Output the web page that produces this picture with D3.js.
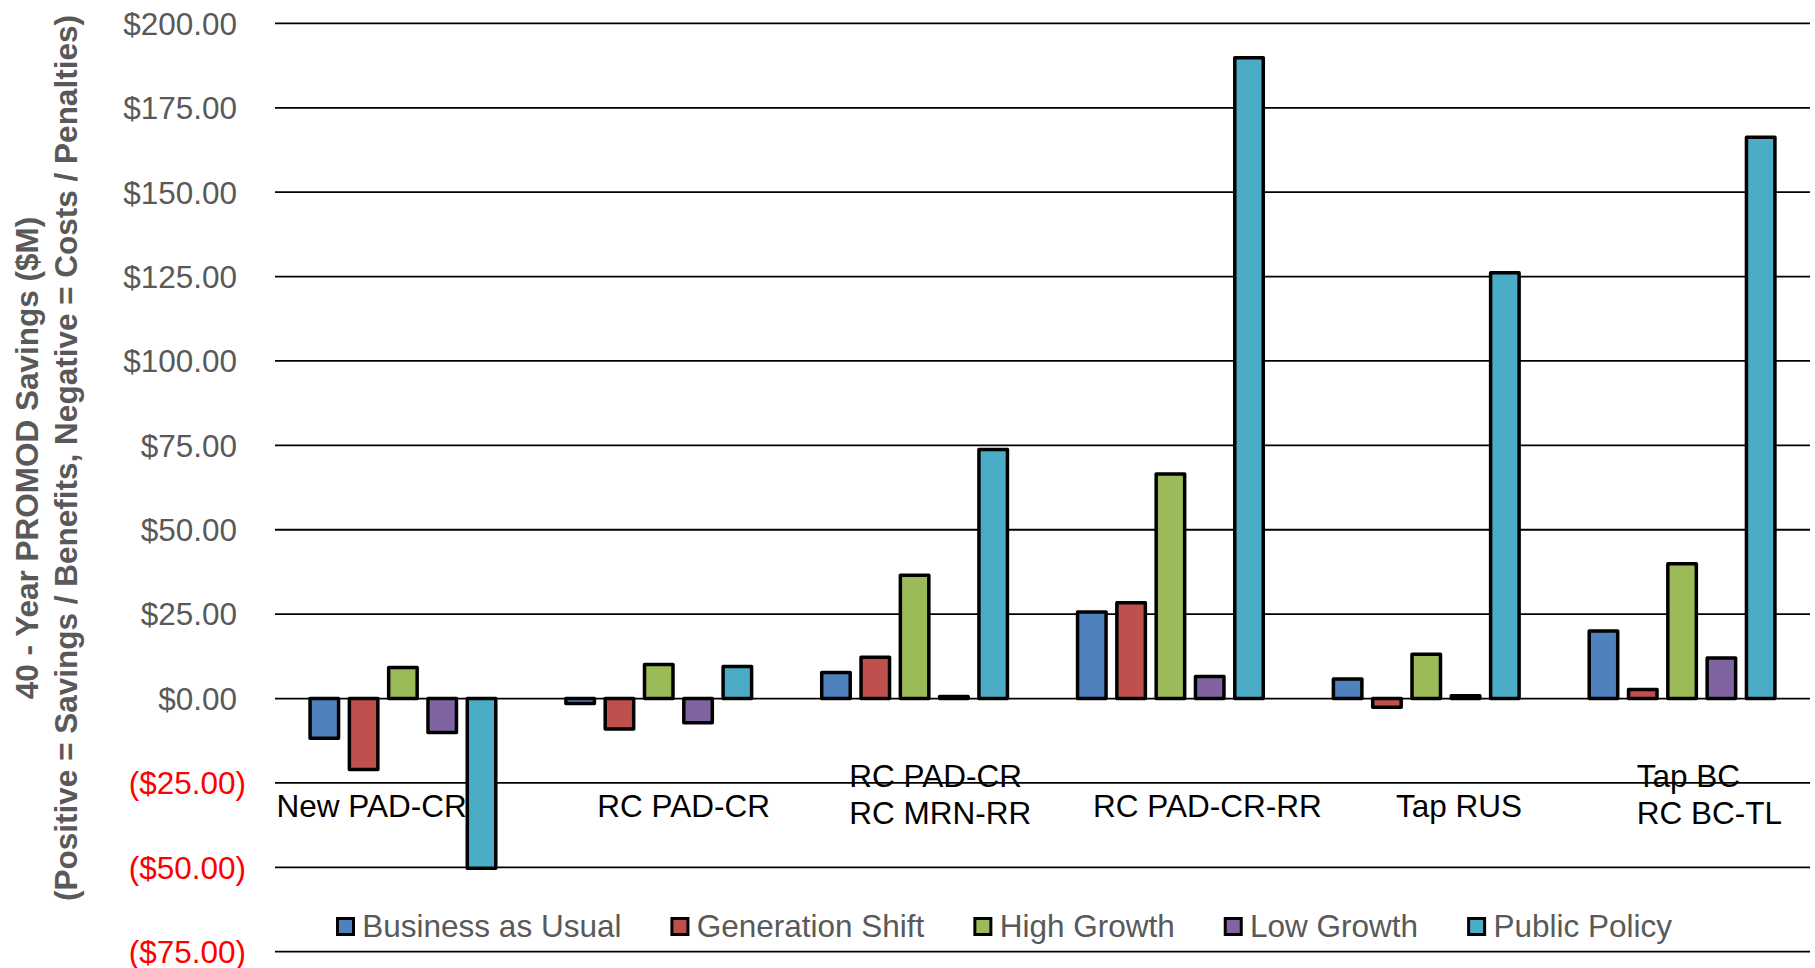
<!DOCTYPE html>
<html>
<head>
<meta charset="utf-8">
<script src="https://cdn.jsdelivr.net/npm/d3@7"></script>
<style>
  html, body { margin: 0; padding: 0; background: #fff; }
  svg { display: block; font-family: "Liberation Sans", Arial, sans-serif; }
</style>
</head>
<body>
<svg id="chart" width="1815" height="968"></svg>
<script>
// Scenario alternatives compared (line breaks become separate text lines)
const categories = [
  "New PAD-CR",
  "RC PAD-CR",
  "RC PAD-CR\nRC MRN-RR",
  "RC PAD-CR-RR",
  "Tap RUS",
  "Tap BC\nRC BC-TL"
];

const seriesNames = ["Business as Usual", "Generation Shift", "High Growth", "Low Growth", "Public Policy"];
const seriesColors = ["#4F81BD", "#C0504D", "#9BBB59", "#8064A2", "#4BACC6"];

// 40-year savings ($M) per alternative, one array per scenario
const businessAsUsual  = [-11.8, -1.5,  7.7,  25.6,   5.8,  20.0];
const generationShift  = [-21.0, -9.0, 12.2,  28.4,  -2.6,   2.7];
const highGrowth       = [  9.2, 10.1, 36.5,  66.5,  13.1,  39.9];
const lowGrowth        = [-10.1, -7.2,  0.6,   6.5,   0.8,  12.0];
const publicPolicy     = [-50.3,  9.5, 73.8, 189.8, 126.1, 166.3];

const seriesValues = [businessAsUsual, generationShift, highGrowth, lowGrowth, publicPolicy];

const yTicks = [-75, -50, -25, 0, 25, 50, 75, 100, 125, 150, 175, 200];

const titleLines = [
  "40 - Year PROMOD Savings ($M)",
  "(Positive = Savings / Benefits, Negative = Costs / Penalties)"
];

// ---- layout ----
const svg = d3.select("#chart");
const plot = { left: 275, right: 1810, top: 23.4, bottom: 951.7 };
const FONT = 31.5;
const GREY = "#595959";
// left edge of each category label, measured from the start of its band
const labelInset = [1.5, 66.5, 62.6, 50.6, 97.7, 82.5];

const y = d3.scaleLinear().domain([-75, 200]).range([plot.bottom, plot.top]);
const x0 = d3.scaleBand().domain(categories).range([plot.left, plot.right]).padding(0);
const x1 = d3.scaleBand().domain(seriesNames).range([0, x0.bandwidth()])
  .paddingInner(0.186).paddingOuter(0.8475);

// gridlines
svg.append("g").selectAll("line").data(yTicks).join("line")
  .attr("x1", plot.left).attr("x2", plot.right)
  .attr("y1", d => y(d)).attr("y2", d => y(d))
  .attr("stroke", "#000").attr("stroke-width", 1.8);

// y tick labels in accounting format; negatives red in parentheses
const fmt = d3.format(",.2f");
svg.append("g").selectAll("text").data(yTicks).join("text")
  .attr("x", d => d < 0 ? 246 : 237)
  .attr("y", d => y(d))
  .attr("dy", "0.36em")
  .attr("text-anchor", "end")
  .attr("font-size", FONT)
  .attr("fill", d => d < 0 ? "#FF0000" : GREY)
  .text(d => d < 0 ? "($" + fmt(-d) + ")" : "$" + fmt(d));

// axis title (two rotated lines)
titleLines.forEach((t, i) => {
  svg.append("text")
    .attr("transform", `translate(${38.3 + i * 38.2},458) rotate(-90)`)
    .attr("text-anchor", "middle")
    .attr("font-size", FONT)
    .attr("font-weight", "bold")
    .attr("fill", GREY)
    .text(t);
});

// category labels, drawn under the bars
const catG = svg.append("g");
categories.forEach((c, i) => {
  const lines = c.split("\n");
  const t = catG.append("text")
    .attr("font-size", FONT)
    .attr("fill", "#000");
  const baselines = lines.length === 1 ? [816.6] : [786.8, 824.2];
  const left = x0(c) + labelInset[i];
  lines.forEach((ln, k) => {
    t.append("tspan").attr("x", left).attr("y", baselines[k]).text(ln);
  });
});

// bars
const SW = 3.5;
const barG = svg.append("g");
seriesNames.forEach((s, j) => {
  barG.append("g").selectAll("rect")
    .data(categories.map((c, i) => ({ c, v: seriesValues[j][i] })))
    .join("rect")
    .attr("x", d => x0(d.c) + x1(s) + SW / 2)
    .attr("width", x1.bandwidth() - SW)
    .attr("y", d => Math.min(y(d.v), y(0)))
    .attr("height", d => Math.abs(y(d.v) - y(0)))
    .attr("fill", seriesColors[j])
    .attr("stroke", "#000")
    .attr("stroke-width", SW)
    .attr("stroke-linejoin", "round");
});

// legend
const legend = svg.append("g");
let cx = 336;
seriesNames.forEach((s, j) => {
  legend.append("rect")
    .attr("x", cx + 1.5).attr("y", 918.5)
    .attr("width", 16).attr("height", 16)
    .attr("fill", seriesColors[j])
    .attr("stroke", "#000").attr("stroke-width", 3);
  const t = legend.append("text")
    .attr("x", cx + 26.3).attr("y", 936.7)
    .attr("font-size", FONT)
    .attr("fill", GREY)
    .text(s);
  cx = cx + 26.3 + t.node().getComputedTextLength() + 49;
});
</script>
</body>
</html>
